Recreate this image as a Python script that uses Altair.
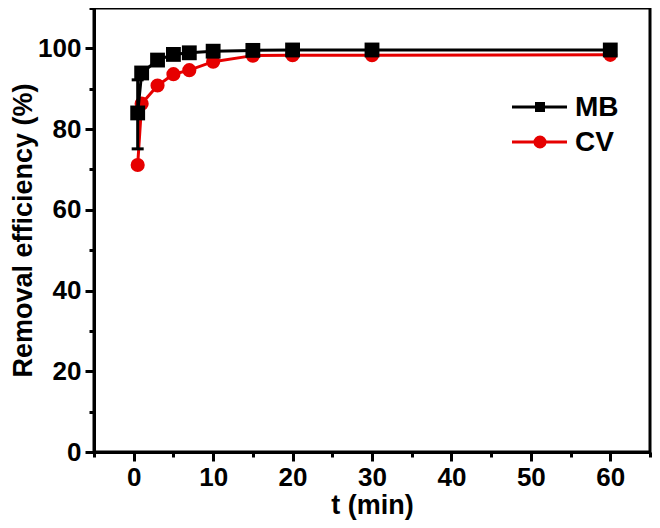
import altair as alt
import pandas as pd

t = [0.5, 1, 3, 5, 7, 10, 15, 20, 30, 60]
mb = [84.0, 93.9, 97.1, 98.5, 98.9, 99.3, 99.5, 99.6, 99.6, 99.6]
cv = [71.1, 86.3, 90.8, 93.6, 94.6, 96.7, 98.2, 98.3, 98.3, 98.4]
err_t = [0.5]
err_lo = [75.1]
err_hi = [92.2]
series = ["MB", "CV"]
colors = ["#000000", "#e60000"]
x_major = [0, 10, 20, 30, 40, 50, 60]
x_minor = [-5, 5, 15, 25, 35, 45, 55, 65]
y_major = [0, 20, 40, 60, 80, 100]
y_minor = [10, 30, 50, 70, 90, 110]

FONT = "Liberation Sans"

df = pd.DataFrame(
    {"t": t * 2, "v": mb + cv, "s": ["MB"] * len(t) + ["CV"] * len(t)}
)
dmb = df[df.s == "MB"]
dcv = df[df.s == "CV"]
derr = pd.DataFrame({"t": err_t, "lo": err_lo, "hi": err_hi})

xscale = alt.Scale(domain=[-5, 65], nice=False, zero=False)
yscale = alt.Scale(domain=[0, 110], nice=False)

xaxis = alt.Axis(values=x_major, tickSize=9, title="t (min)", grid=False, orient="bottom",
                 labelPadding=3, titlePadding=2)
yaxis = alt.Axis(values=y_major, tickSize=9, title="Removal efficiency (%)", grid=False, orient="left")
xaxis_minor = alt.Axis(values=x_minor, tickSize=5, labels=False, domain=False, title=None,
                       grid=False, orient="bottom")
yaxis_minor = alt.Axis(values=y_minor, tickSize=5, labels=False, domain=False, title=None,
                       grid=False, orient="left")

X = alt.X("t:Q", scale=xscale, axis=xaxis)
Y = alt.Y("v:Q", scale=yscale, axis=yaxis)
Xn = alt.X("t:Q", scale=xscale, axis=None)
Yn = alt.Y("v:Q", scale=yscale, axis=None)

base_major = alt.Chart(dmb).mark_point(opacity=0).encode(x=X, y=Y)
base_minor = alt.Chart(dmb).mark_point(opacity=0).encode(
    x=alt.X("t:Q", scale=xscale, axis=xaxis_minor),
    y=alt.Y("v:Q", scale=yscale, axis=yaxis_minor),
)

cv_line = alt.Chart(dcv).mark_line(color=colors[1], strokeWidth=3).encode(x=Xn, y=Yn)
cv_pts = alt.Chart(dcv).mark_point(
    shape="circle", filled=True, color=colors[1], size=200, opacity=1
).encode(x=Xn, y=Yn)

err_rule = alt.Chart(derr).mark_rule(color="black", strokeWidth=3).encode(
    x=alt.X("t:Q", scale=xscale, axis=None), y=alt.Y("lo:Q", scale=yscale, axis=None), y2="hi:Q"
)
err_lo_cap = alt.Chart(derr).mark_tick(
    color="black", orient="horizontal", size=12, thickness=3, opacity=1
).encode(x=alt.X("t:Q", scale=xscale, axis=None), y=alt.Y("lo:Q", scale=yscale, axis=None))
err_hi_cap = alt.Chart(derr).mark_tick(
    color="black", orient="horizontal", size=12, thickness=3, opacity=1
).encode(x=alt.X("t:Q", scale=xscale, axis=None), y=alt.Y("hi:Q", scale=yscale, axis=None))

mb_line = alt.Chart(dmb).mark_line(color=colors[0], strokeWidth=3).encode(x=Xn, y=Yn)
mb_pts = alt.Chart(dmb).mark_point(
    shape="square", filled=True, color=colors[0], size=220, opacity=1
).encode(x=Xn, y=Yn)

# manual legend (line + marker + label)
leg = pd.DataFrame({"s": series, "c": colors})
legend_layers = []
for i, (name, col, shp, sz) in enumerate(
    [(series[0], colors[0], "square", 100), (series[1], colors[1], "circle", 170)]
):
    yy = 99 + i * 35
    sub = leg[leg.s == name]
    legend_layers.append(
        alt.Chart(sub).mark_rule(color=col, strokeWidth=3).encode(
            x=alt.value(418), x2=alt.value(473), y=alt.value(yy)
        )
    )
    legend_layers.append(
        alt.Chart(sub).mark_point(shape=shp, filled=True, color=col, size=sz, opacity=1).encode(
            x=alt.value(446), y=alt.value(yy)
        )
    )
    legend_layers.append(
        alt.Chart(sub).mark_text(
            align="left", baseline="middle", font=FONT, fontSize=28, fontWeight="bold", color="black"
        ).encode(x=alt.value(481), y=alt.value(yy + 1), text="s:N")
    )

chart = (
    alt.layer(base_major, base_minor, cv_line, cv_pts, err_rule, err_lo_cap, err_hi_cap,
              mb_line, mb_pts, *legend_layers)
    .resolve_axis(x="independent", y="independent")
    .properties(
        width=556,
        height=444,
        autosize=alt.AutoSizeParams(type="none"),
        padding={"left": 86, "top": 0, "right": 2, "bottom": 68},
    )
    .configure_view(stroke="black", strokeWidth=3)
    .configure_axis(
        domainColor="black",
        domainWidth=3,
        tickColor="black",
        tickWidth=3,
        labelFont=FONT,
        labelFontSize=26,
        labelFontWeight="bold",
        labelColor="black",
        labelPadding=4,
        titleFont=FONT,
        titleFontSize=27,
        titleFontWeight="bold",
        titleColor="black",
    )
    .configure_axisY(titlePadding=0)
)

chart.save("out.html", embed_options={"renderer": "svg", "actions": False})
